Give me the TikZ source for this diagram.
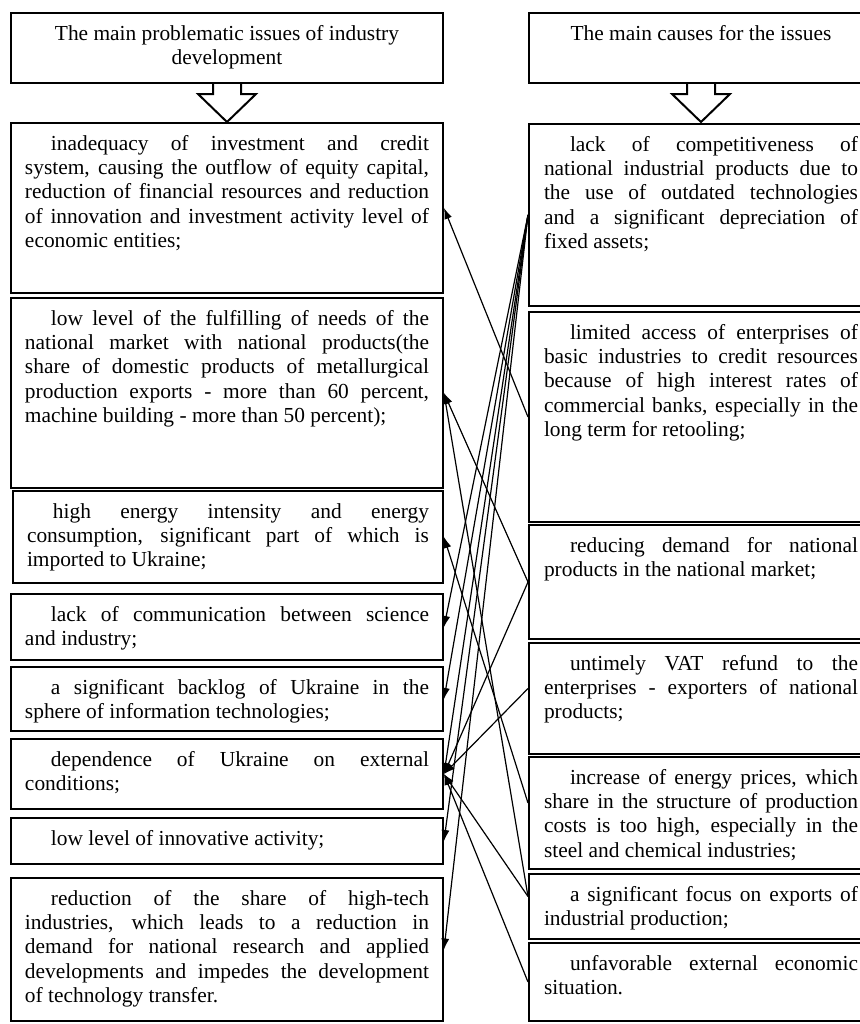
\documentclass[tikz,border=0pt]{standalone}
\usepackage{fontspec}
\setmainfont{Liberation Serif}
\usetikzlibrary{arrows.meta}

\newcommand{\celltext}[3]{\parbox[t][#2][t]{#1}{\spaceskip=0.25em plus 1em minus 0.05em\tolerance=10000\hyphenpenalty=10000\strut\hspace*{13pt}#3}}
\newcommand{\headtext}[3]{\parbox[t][#2][t]{#1}{\centering\strut#3}}

\begin{document}
\begin{tikzpicture}[x=0.5pt, y=-0.5pt,
    cellbox/.style={draw, line width=1pt, anchor=north west, inner ysep=5pt, font=\fontsize{10.7}{12.2}\selectfont},
    issue/.style={cellbox, inner xsep=7pt},
    cause/.style={cellbox, inner xsep=7.5pt},
    linkarrow/.style={line width=0.6pt, -{Latex[length=5.5pt,width=4pt]}},
    bigarrow/.style={line width=1pt, fill=white}]
    \path[use as bounding box, fill=white] (0,0) rectangle (859,1024);

    \node[issue] (issueHead) at (10,12) {\headtext{202pt}{25pt}{The main problematic issues of industry\\development}};
    \node[cause] (causeHead) at (528,12) {\headtext{157pt}{25pt}{The main causes for the issues}};

    \node[issue] (issue1) at (10,122) {\celltext{202pt}{75pt}{inadequacy of investment and credit \linebreak system, causing the outflow of equity capital, \linebreak reduction of financial resources and reduction \linebreak of innovation and investment activity level of \linebreak economic entities;}};
    \node[issue] (issue2) at (10,297) {\celltext{202pt}{85pt}{low level of the fulfilling of needs of the \linebreak national market with national products(the \linebreak share of domestic products of metallurgical \linebreak production exports - more than 60 percent, \linebreak machine building - more than 50 percent);}};
    \node[issue] (issue3) at (12,490) {\celltext{201pt}{36pt}{high energy intensity and energy \linebreak consumption, significant part of which is \linebreak imported to Ukraine;}};
    \node[issue] (issue4) at (10,593) {\celltext{202pt}{23pt}{lack of communication between science \linebreak and industry;}};
    \node[issue] (issue5) at (10,666) {\celltext{202pt}{22pt}{a significant backlog of Ukraine in the \linebreak sphere of information technologies;}};
    \node[issue] (issue6) at (10,738) {\celltext{202pt}{25pt}{dependence of Ukraine on external \linebreak conditions;}};
    \node[issue] (issue7) at (10,817) {\celltext{202pt}{13pt}{low level of innovative activity;}};
    \node[issue] (issue8) at (10,877) {\celltext{202pt}{61.5pt}{reduction of the share of high-tech \linebreak industries, which leads to a reduction in \linebreak demand for national research and applied \linebreak developments and impedes the development \linebreak of technology transfer.}};

    \node[cause] (cause1) at (528,123) {\celltext{157pt}{81pt}{lack of competitiveness of \linebreak national industrial products due to \linebreak the use of outdated technologies \linebreak and a significant depreciation of \linebreak fixed assets;}};
    \node[cause] (cause2) at (528,311) {\celltext{157pt}{95pt}{limited access of enterprises of \linebreak basic industries to credit resources \linebreak because of high interest rates of \linebreak commercial banks, especially in the \linebreak long term for retooling;}};
    \node[cause] (cause3) at (528,524) {\celltext{157pt}{47pt}{reducing demand for national \linebreak products in the national market;}};
    \node[cause] (cause4) at (528,642) {\celltext{157pt}{45.5pt}{untimely VAT refund to the \linebreak enterprises - exporters of national \linebreak products;}};
    \node[cause] (cause5) at (528,756) {\celltext{157pt}{46pt}{increase of energy prices, which \linebreak share in the structure of production \linebreak costs is too high, especially in the \linebreak steel and chemical industries;}};
    \node[cause] (cause6) at (528,873) {\celltext{157pt}{22.5pt}{a significant focus on exports of \linebreak industrial production;}};
    \node[cause] (cause7) at (528,942) {\celltext{157pt}{29pt}{unfavorable external economic \linebreak situation.}};

    \draw[bigarrow] (issueHead.south) ++(-14,0) -- ++(0,10) -- ++(-15,0) -- ++(29,28) -- ++(29,-28) -- ++(-15,0) -- ++(0,-10);
    \draw[bigarrow] (causeHead.south) ++(-14,0) -- ++(0,10) -- ++(-15,0) -- ++(29,28) -- ++(29,-28) -- ++(-15,0) -- ++(0,-10);

    \draw[linkarrow] (cause2.west) -- (issue1.east);
    \draw[linkarrow] (cause3.west) -- (issue2.east);
    \draw[linkarrow] ([yshift=5pt]cause6.west) -- (issue2.east);
    \draw[linkarrow] ([yshift=5pt]cause5.west) -- (issue3.east);
    \draw[linkarrow] (cause1.west) -- (issue4.east);
    \draw[linkarrow] (cause1.west) -- (issue5.east);
    \draw[linkarrow] (cause1.west) -- (issue6.east);
    \draw[linkarrow] (cause1.west) -- (issue7.east);
    \draw[linkarrow] (cause1.west) -- (issue8.east);
    \draw[linkarrow] (cause3.west) -- (issue6.east);
    \draw[linkarrow] ([yshift=5pt]cause4.west) -- (issue6.east);
    \draw[linkarrow] ([yshift=5pt]cause6.west) -- (issue6.east);
    \draw[linkarrow] (cause7.west) -- (issue6.east);
\end{tikzpicture}
\end{document}
